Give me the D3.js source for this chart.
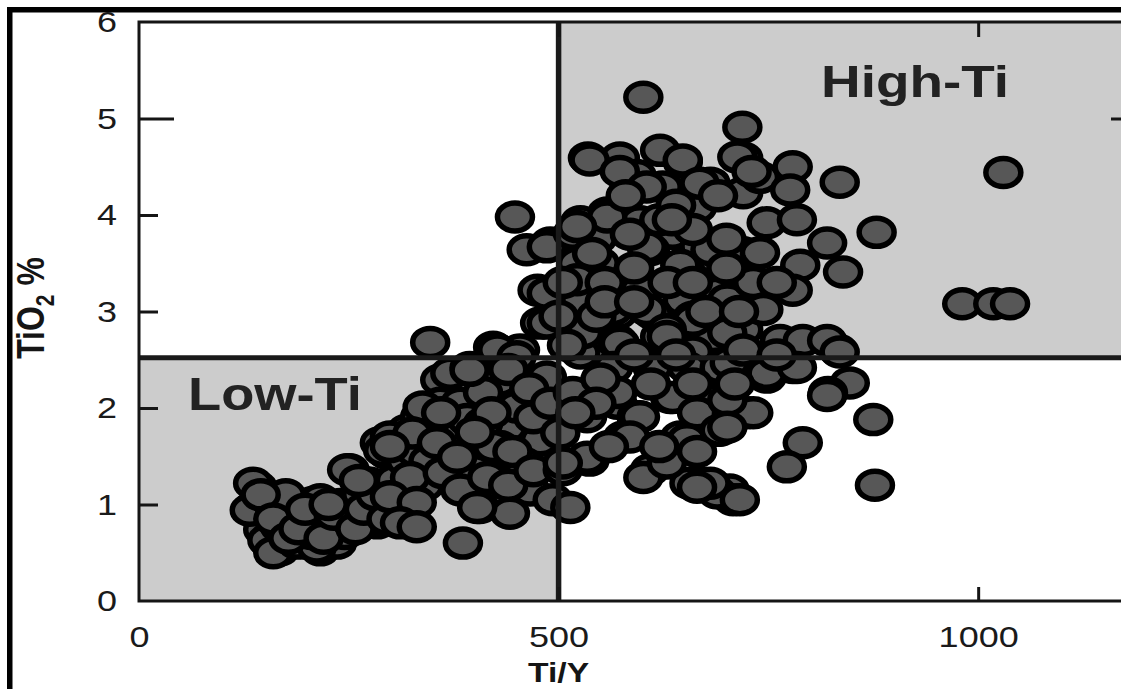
<!DOCTYPE html>
<html>
<head>
<meta charset="utf-8">
<script src="https://cdn.jsdelivr.net/npm/d3@7"></script>
<style>
  html, body { margin: 0; padding: 0; background: #fff; overflow: hidden; }
  svg { display: block; font-family: "Liberation Sans", Arial, Helvetica, sans-serif; }
</style>
</head>
<body>
<svg id="chart" width="1121" height="689"></svg>
<script>
// ---- data (Ti/Y, TiO2 %) ----
const xTicks = [0, 500, 1000];
const yTicks = [0, 1, 2, 3, 4, 5, 6];
const tiYSplit = 500;
const tio2Split = 2.52;

const lowTiSamples = [
  [141,1.18],[135,0.96],[150,1.00],[148,0.74],[156,0.60],[168,0.53],[184,0.97],[182,0.74],[200,0.60],[216,0.53],
  [228,0.81],[236,0.60],[207,1.02],[251,0.97],[251,1.36],[272,1.22],[284,0.81],[291,1.02],[296,1.53],[287,1.64],
  [311,1.33],[326,1.05],[326,0.81],[319,1.77],[335,1.91],[350,1.67],[355,1.36],[359,2.29],[359,2.05],
  [136,1.22],[132,0.94],[156,1.05],[153,0.63],[160,0.50],[168,0.77],[188,0.60],[212,0.56],[225,0.81],[216,1.05],
  [248,1.36],[275,1.22],[279,0.84],[291,1.56],[299,1.70],
  [170,0.95],[195,0.85],[240,1.00],[260,0.90],[265,1.10],[300,0.95],[310,1.15],[245,0.70],[205,0.70],[175,1.10],
  [145,1.10],[160,0.85],[178,0.65],[190,0.75],[198,0.95],[220,0.65],[232,0.90],[258,0.75],[268,0.95],[282,1.10],
  [295,0.85],[305,1.25],[318,1.45],[330,1.55],[340,1.20],[345,1.85],[365,1.75],[370,1.95],[380,1.70],[395,1.55],
  [400,1.35],[345,1.45],[318,0.95],[262,1.25],[226,1.00]
];

const transitionSamples = [
  [347,2.68],[462,3.64],[490,3.71],[475,3.22],[478,2.88],[486,2.88],[422,2.63],[454,2.60],[371,2.36],[394,2.42],
  [430,2.29],[481,2.29],[383,2.05],[410,2.16],[454,2.05],[338,2.01],[326,1.74],[355,1.64],[299,1.60],[391,1.88],
  [439,1.80],[430,1.60],[486,1.74],[474,1.49],[323,1.28],[362,1.33],[383,1.15],[422,1.28],[299,1.08],[331,1.02],
  [466,1.15],[493,1.05],[406,0.97],[442,0.91],[311,0.81],[331,0.77],[386,0.60],
  [427,2.60],[450,2.53],[394,2.39],[450,2.01],[410,1.84],[379,1.49],[422,1.60],[478,1.67],[458,1.43],[415,1.28],
  [403,0.97],[448,3.98],[486,3.67],[486,3.19],[486,2.32],
  [440,2.40],[465,2.20],[420,1.95],[470,1.90],[445,1.55],[400,1.75],[360,1.95],[490,2.05],[440,1.20],[470,1.35]
];

const highTiSamples = [
  [514,0.97],[505,1.36],[537,1.46],[570,2.05],[593,1.91],[577,1.70],[609,1.36],[601,1.28],[645,1.70],[689,1.77],
  [724,1.95],[633,2.11],[689,2.11],[656,1.22],[672,1.22],[704,1.15],[708,1.05],
  [535,4.59],[573,4.59],[648,4.55],[720,4.59],[593,4.41],[681,4.33],[624,4.29],[720,4.23],[665,4.08],[558,4.02],
  [597,3.93],[526,3.93],[636,3.81],[546,3.76],[517,3.81],[609,3.64],[668,3.67],[549,3.50],[645,3.48],[522,3.50],
  [689,3.53],[720,3.61],[597,3.22],[526,3.12],[648,3.12],[696,3.15],[570,2.98],[612,2.98],[660,2.94],[526,2.81],
  [570,2.67],[621,2.74],[684,2.74],[720,2.81],[526,2.57],[660,2.58],
  [601,5.22],[537,4.57],[573,4.45],[621,4.67],[648,4.57],[605,4.29],[668,4.33],[558,3.98],[522,3.88],[605,3.67],
  [681,3.64],[522,3.33],[689,3.19],[565,3.02],[605,3.02],[660,2.91],[526,2.84],[629,2.81],[570,2.70],
  [529,2.78],[573,2.67],[629,2.74],[565,2.42],[612,2.42],[653,2.42],[692,2.42],[517,2.16],[570,2.16],[636,2.11],
  [684,2.08],[534,1.91],[597,1.91],[665,1.95],[502,1.74],[585,1.70],[653,1.67],[692,1.77],[534,1.49],[505,1.43],
  [629,1.43],[689,1.12],
  [764,2.70],[791,2.70],[833,2.60],[748,2.32],[779,2.42],[847,2.26],[821,2.16],[720,1.95],[875,1.88],[791,1.64],
  [772,1.39],[877,1.20],[681,1.22],[665,1.18],
  [719,4.91],[713,4.60],[740,4.39],[779,4.50],[776,4.26],[835,4.34],[748,3.92],[784,3.95],[879,3.82],[740,3.61],
  [820,3.71],[788,3.48],[839,3.41],[779,3.22],[701,3.12],[732,3.30],[744,3.02],[701,2.78],[820,2.70],[835,2.58],
  [704,2.47],[748,2.36],[784,2.42],[820,2.13],[732,1.95],[701,2.08],[701,1.80],[716,1.05],
  [505,3.30],[500,2.95],[510,2.65],[540,3.60],[555,3.30],[545,2.95],[590,3.45],[630,3.30],[660,3.30],[700,3.45],
  [620,3.95],[660,3.85],[690,4.20],[640,4.10],[580,4.20],[730,4.45],[760,3.30],
  [550,2.30],[590,2.55],[640,2.55],[720,2.60],[760,2.55],[545,2.05],[610,2.25],[660,2.25],[710,2.25],[520,1.95],
  [560,1.60],[620,1.60],[665,1.55],[555,3.10],[590,3.10],[675,3.00],[715,3.00],[635,3.95],[585,3.80],[700,3.75],
  [1030,4.44],[981,3.08],[1018,3.08],[1038,3.08]
];

const labels = { x: "Ti/Y", low: "Low-Ti", high: "High-Ti" };

// ---- layout ----
const svg = d3.select("#chart");
const x = d3.scaleLinear().domain([0, 1200]).range([139, 1146]);
const y = d3.scaleLinear().domain([0, 6]).range([601, 22]);
const STRETCH = 1.2;
const ink = "#151515";

function stretch(sel, k) {
  sel.each(function () {
    const w = this.getComputedTextLength();
    this.setAttribute("textLength", w * k);
    this.setAttribute("lengthAdjust", "spacingAndGlyphs");
  });
}

// outer black frame (top and left)
svg.append("rect").attr("x", 7).attr("y", 7).attr("width", 1121 - 7).attr("height", 5.5).attr("fill", "#000");
svg.append("rect").attr("x", 7).attr("y", 7).attr("width", 5.5).attr("height", 689 - 7).attr("fill", "#000");

// shaded fields
svg.append("rect")
  .attr("x", x(0)).attr("y", y(tio2Split))
  .attr("width", x(tiYSplit) - x(0)).attr("height", y(0) - y(tio2Split))
  .attr("fill", "#cccccc");
svg.append("rect")
  .attr("x", x(tiYSplit)).attr("y", y(6))
  .attr("width", x(1200) - x(tiYSplit)).attr("height", y(tio2Split) - y(6))
  .attr("fill", "#cccccc");

// points
const all = [...lowTiSamples, ...transitionSamples, ...highTiSamples];
svg.append("g").selectAll("ellipse").data(all).join("ellipse")
  .attr("cx", d => x(d[0]))
  .attr("cy", d => y(d[1]))
  .attr("rx", 17.5)
  .attr("ry", 14)
  .attr("fill", "#575757")
  .attr("stroke", "#000")
  .attr("stroke-width", 5.5);

// field boundary lines
svg.append("line")
  .attr("x1", x(0)).attr("x2", x(1200))
  .attr("y1", y(tio2Split)).attr("y2", y(tio2Split))
  .attr("stroke", "#1a1a1a").attr("stroke-width", 5);
svg.append("line")
  .attr("x1", x(tiYSplit)).attr("x2", x(tiYSplit))
  .attr("y1", y(6)).attr("y2", y(0))
  .attr("stroke", "#1a1a1a").attr("stroke-width", 5.5);

// plot frame
svg.append("rect")
  .attr("x", x(0)).attr("y", y(6))
  .attr("width", x(1200) - x(0)).attr("height", y(0) - y(6))
  .attr("fill", "none").attr("stroke", ink).attr("stroke-width", 3);

// axes
function styleAxis(g) {
  g.select(".domain").remove();
  g.selectAll(".tick line").attr("stroke", ink).attr("stroke-width", 3);
  g.selectAll(".tick text").attr("fill", "#1a1a1a").attr("font-size", 30);
}

const gLeft = svg.append("g").attr("transform", `translate(${x(0)},0)`)
  .call(d3.axisLeft(y).tickValues(yTicks).tickSize(-19).tickPadding(22).tickFormat(d3.format("d")))
  .call(styleAxis);
gLeft.selectAll(".tick").filter(d => d === 5).select("line").attr("x2", 35);
gLeft.selectAll(".tick").filter(d => d === 0 || d === 6).select("line").remove();
stretch(gLeft.selectAll(".tick text"), STRETCH);

const gRight = svg.append("g").attr("transform", `translate(${x(1200)},0)`)
  .call(d3.axisRight(y).tickValues(yTicks).tickSize(-19).tickFormat(""))
  .call(styleAxis);
gRight.selectAll(".tick").filter(d => d === 5).select("line").attr("x2", -35);

const gBottom = svg.append("g").attr("transform", `translate(0,${y(0)})`)
  .call(d3.axisBottom(x).tickValues(xTicks).tickSize(-14).tickPadding(25).tickFormat(d3.format("d")))
  .call(styleAxis);
gBottom.selectAll(".tick").filter(d => d === 0).select("line").remove();
stretch(gBottom.selectAll(".tick text"), STRETCH);

const gTop = svg.append("g").attr("transform", `translate(0,${y(6)})`)
  .call(d3.axisTop(x).tickValues(xTicks.filter(d => d > 0)).tickSize(-15).tickFormat(""))
  .call(styleAxis);

// field labels
const lowT = svg.append("text")
  .attr("x", 188).attr("y", 410)
  .attr("font-size", 46).attr("font-weight", "bold").attr("fill", "#222")
  .text(labels.low);
stretch(lowT, 1.18);
const highT = svg.append("text")
  .attr("x", 821).attr("y", 97)
  .attr("font-size", 45).attr("font-weight", "bold").attr("fill", "#222")
  .text(labels.high);
stretch(highT, 1.22);

// axis titles
const xT = svg.append("text")
  .attr("x", x(tiYSplit)).attr("y", 682)
  .attr("text-anchor", "middle")
  .attr("font-size", 28).attr("font-weight", "bold").attr("fill", ink)
  .text(labels.x);
stretch(xT, STRETCH);

const yT = svg.append("text")
  .attr("transform", `translate(44,308) scale(${STRETCH},1) rotate(-90)`)
  .attr("text-anchor", "middle")
  .attr("font-size", 32).attr("font-weight", "bold").attr("fill", ink);
yT.append("tspan").text("TiO");
yT.append("tspan").attr("font-size", 21).attr("dy", 8).text("2");
yT.append("tspan").attr("dy", -8).text(" %");
</script>
</body>
</html>
